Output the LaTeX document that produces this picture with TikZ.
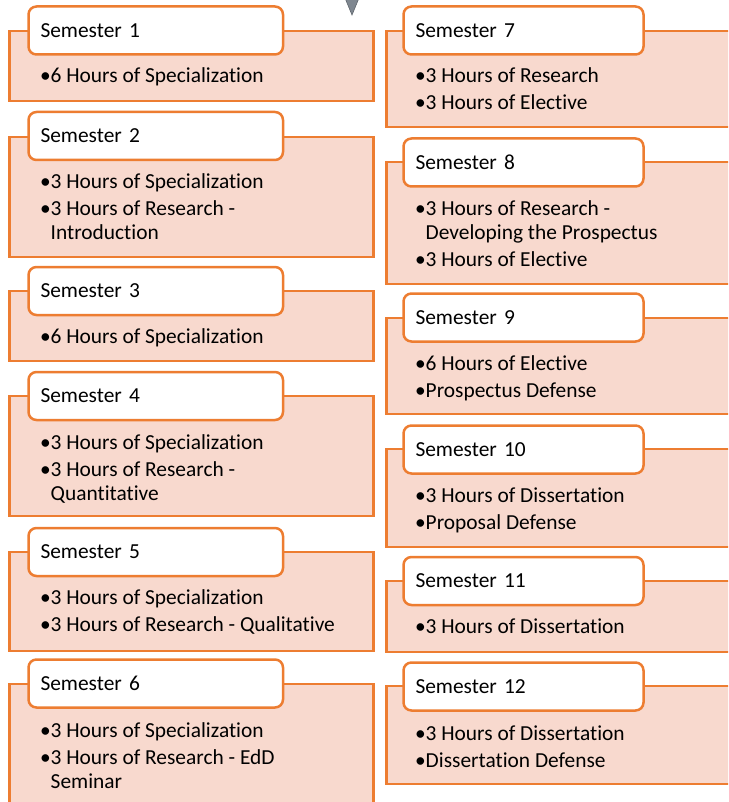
\documentclass[tikz,border=0pt]{standalone}
\usepackage{fontspec}
\setmainfont{Carlito}[Ligatures=NoCommon]
\usepackage{tikz}
\usetikzlibrary{positioning}
\usepackage{xcolor}

\definecolor{semorange}{HTML}{ED7D31}
\definecolor{sempink}{HTML}{F8D9CE}
\definecolor{markgray}{HTML}{7F8790}

\newcommand{\semitem}{\makebox[10.5pt][l]{\textbullet}}
\newcommand{\semcont}{\hspace*{10.5pt}}

\begin{document}
\begin{tikzpicture}[
    x=1pt, y=-1pt,
    panel/.style={draw=semorange, fill=sempink, line width=2.5pt},
    head/.style={draw=semorange, fill=white, rounded corners=8pt, line width=2.5pt, anchor=west,
        minimum height=48pt, inner xsep=12pt, outer sep=0pt, align=left,
        text height=13.5pt, text depth=0pt, font=\fontsize{21.4}{24}\selectfont},
    headL/.style={head, text width=230.5pt},
    headR/.style={head, text width=216pt},
    % base anchor sits on the last line
    items/.style={anchor=base west, align=left, inner sep=0pt, font=\fontsize{21.4}{24}\selectfont}
]
\clip (0,0) rectangle (728,802);

% Marker on top
\draw[fill=markgray, draw=markgray!75!black, line width=0.6pt] (345,-2) -- (359,-2) -- (352,15) -- cycle;

% Left column
\draw[panel] (9.5,31) rectangle (373.5,101);
\node[headL] (sem1) at (28.5,30.5) {Semester 1};
\node[items] (list1) at (40,83) {\semitem 6 Hours of Specialization};

\draw[panel] (9.5,137) rectangle (373.5,257);
\node[headL] (sem2) at (28.5,136) {Semester 2};
\node[items] (list2) at (40,239) {\semitem 3 Hours of Specialization\\[3pt]\semitem 3 Hours of Research -\\\semcont Introduction};

\draw[panel] (9.5,291) rectangle (373.5,361);
\node[headL] (sem3) at (28.5,291) {Semester 3};
\node[items] (list3) at (40,343) {\semitem 6 Hours of Specialization};

\draw[panel] (9.5,396) rectangle (373.5,516);
\node[headL] (sem4) at (28.5,396) {Semester 4};
\node[items] (list4) at (40,500) {\semitem 3 Hours of Specialization\\[3pt]\semitem 3 Hours of Research -\\\semcont Quantitative};

\draw[panel] (9.5,552) rectangle (373.5,651);
\node[headL] (sem5) at (28.5,552) {Semester 5};
\node[items] (list5) at (40,631) {\semitem 3 Hours of Specialization\\[3pt]\semitem 3 Hours of Research - Qualitative};

\draw[panel] (9.5,684) rectangle (373.5,820);
\node[headL] (sem6) at (28.5,683.5) {Semester 6};
\node[items] (list6) at (40,788) {\semitem 3 Hours of Specialization\\[3pt]\semitem 3 Hours of Research - EdD\\\semcont Seminar};

% Right column
\draw[panel] (386.5,31) rectangle (740,127);
\node[headR] (sem7) at (403.5,30.5) {Semester 7};
\node[items] (list7) at (415,110) {\semitem 3 Hours of Research\\[3pt]\semitem 3 Hours of Elective};

\draw[panel] (386.5,162) rectangle (740,284);
\node[headR] (sem8) at (403.5,162.5) {Semester 8};
\node[items] (list8) at (415,266) {\semitem 3 Hours of Research -\\\semcont Developing the Prospectus\\[3pt]\semitem 3 Hours of Elective};

\draw[panel] (386.5,318) rectangle (740,414);
\node[headR] (sem9) at (403.5,317.5) {Semester 9};
\node[items] (list9) at (415,397) {\semitem 6 Hours of Elective\\[3pt]\semitem Prospectus Defense};

\draw[panel] (386.5,449) rectangle (740,547);
\node[headR] (sem10) at (403.5,449.5) {Semester 10};
\node[items] (list10) at (415,529) {\semitem 3 Hours of Dissertation\\[3pt]\semitem Proposal Defense};

\draw[panel] (386.5,581) rectangle (740,652);
\node[headR] (sem11) at (403.5,581) {Semester 11};
\node[items] (list11) at (415,633) {\semitem 3 Hours of Dissertation};

\draw[panel] (386.5,686) rectangle (740,784);
\node[headR] (sem12) at (403.5,686.5) {Semester 12};
\node[items] (list12) at (415,767) {\semitem 3 Hours of Dissertation\\[3pt]\semitem Dissertation Defense};
\end{tikzpicture}
\end{document}
